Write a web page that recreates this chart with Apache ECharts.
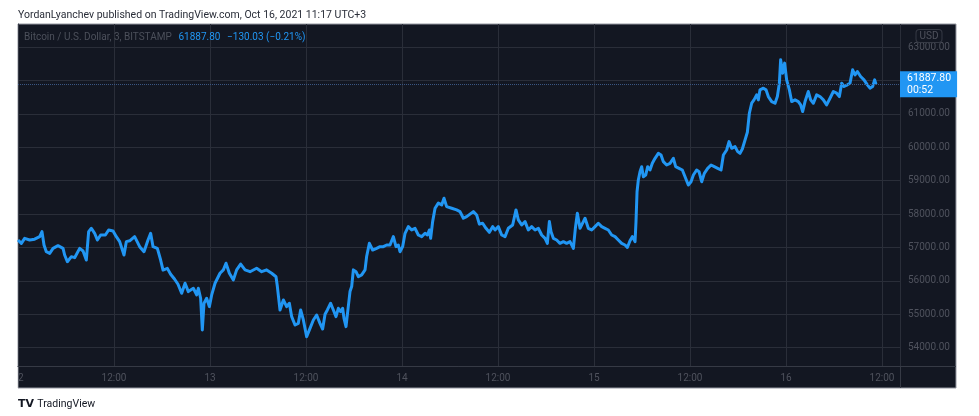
<!DOCTYPE html>
<html>
<head>
<meta charset="utf-8">
<script src="https://cdn.jsdelivr.net/npm/echarts@6/dist/echarts.min.js"></script>
<style>
html,body{margin:0;padding:0;background:#ffffff;}
#chart{width:979px;height:416px;}
</style>
</head>
<body>
<div id="chart"></div>
<script>
// [hours since 12 Oct 00:00 (UTC+3), BTC/USD price]
const oct12Points = [
  [0,57225],[0.42,57125],[0.83,57275],[1.46,57225],[2.08,57250],[2.71,57325],[3.0,57475],[3.25,57075],
  [3.54,56875],[3.96,56825],[4.38,56975],[5.0,57055],[5.63,56975],[5.83,56775],[6.17,56575],[6.67,56725],
  [7.08,56695],[7.71,56975],[8.13,56895],[8.54,56625],[8.83,57475],[9.17,57575],[9.58,57425],[9.92,57225],
  [10.33,57375],[10.92,57375],[11.33,57525],[11.88,57495],[12.29,57325],[12.71,57175],[13.25,56775],[13.54,57175],
  [13.96,57200],[14.58,57325],[15.21,57025],[15.75,56875],[16.25,57225],[16.58,57425],[16.88,57025],[17.42,56975],
  [17.83,56625],[18.13,56325],[18.67,56375],[19.08,56200],[19.58,56050],[20.0,55900],[20.46,55630],[20.88,55930],
  [21.29,55680],[21.92,55780],[22.33,55580],[22.54,55780],[22.83,55480],[23.04,54530],[23.25,55330],[23.58,55480],
  [23.92,55230]
];
const oct13Points = [
  [24.21,55580],[24.63,55930],[25.25,56230],[25.67,56330],[26.0,56530],[26.42,56230],[26.92,56030],[27.33,56330],
  [27.83,56505],[28.38,56330],[29.0,56275],[29.83,56380],[30.46,56275],[31.08,56330],[31.71,56230],[32.25,56125],
  [32.42,55830],[32.75,55130],[33.17,55430],[33.58,55230],[33.92,55330],[34.21,54930],[34.63,54680],[35.04,54730],
  [35.33,55130],[35.67,54830],[36.08,54330],[36.5,54580],[36.92,54830],[37.33,54980],[37.75,54730],[38.08,54560],
  [38.38,55000],[38.67,55130],[39.08,55330],[39.42,55130],[39.75,54930],[40.04,55180],[40.33,55080],[40.58,55180],
  [40.75,54880],[41.0,54630],[41.25,54680],[41.5,55680],[41.71,55830],[41.92,56330],[42.25,56275],[42.54,56125],
  [42.96,56180],[43.38,56330],[43.58,56730],[43.92,57125],[44.33,56925],[44.83,56975],[45.25,57025],[45.67,57025],
  [46.08,57075],[46.5,57075],[46.92,57325],[47.25,57025],[47.54,57075],[47.75,56875]
];
const oct14Points = [
  [48.08,57025],[48.38,57425],[48.79,57625],[49.21,57525],[49.63,57575],[50.04,57375],[50.46,57325],[50.88,57425],
  [51.17,57375],[51.42,57525],[51.58,57275],[51.83,57775],[52.13,58175],[52.54,58330],[52.96,58275],[53.25,58475],
  [53.58,58225],[54.21,58175],[54.83,58125],[55.25,58075],[55.67,57875],[56.08,57925],[56.5,58000],[56.92,58075],
  [57.33,57975],[57.67,57700],[58.08,57725],[58.5,57575],[58.92,57455],[59.33,57625],[59.63,57525],[60.04,57625],
  [60.46,57375],[60.88,57325],[61.29,57575],[61.83,57675],[62.25,58125],[62.54,57825],[62.96,57675],[63.38,57775],
  [63.79,57525],[64.21,57625],[64.63,57525],[65.04,57575],[65.46,57375],[65.88,57275],[66.17,57125],[66.42,57775],
  [66.63,57475],[66.92,57275],[67.33,57225],[67.75,57125],[68.17,57175],[68.58,57125],[69.0,57175],[69.42,56975],
  [69.67,57575],[69.92,58025],[70.25,57575],[70.67,57775],[70.88,57875],[71.29,57575],[71.71,57525]
];
const oct15Points = [
  [72.13,57625],[72.54,57725],[72.96,57625],[73.38,57575],[73.79,57525],[74.21,57375],[74.63,57325],[75.04,57225],
  [75.46,57125],[75.88,57075],[76.17,57000],[76.5,57200],[76.79,57325],[77.13,57175],[77.25,57775],[77.38,58670],
  [77.54,59020],[77.75,59270],[77.96,59420],[78.17,59120],[78.46,59170],[78.71,59420],[79.0,59320],[79.29,59520],
  [79.63,59670],[80.04,59820],[80.38,59770],[80.67,59570],[81.08,59470],[81.5,59520],[81.92,59670],[82.21,59420],
  [82.63,59370],[83.04,59320],[83.38,59120],[83.79,58870],[84.13,58970],[84.42,59170],[84.83,59320],[85.13,59270],
  [85.46,58970],[85.79,59220],[86.21,59370],[86.63,59470],[87.04,59420],[87.46,59370],[87.88,59320],[88.17,59770],
  [88.58,59920],[88.88,60170],[89.21,59970],[89.63,60020],[89.96,59870],[90.25,59820],[90.54,59950],[90.88,60220],
  [91.17,60450],[91.42,61020],[91.71,61320],[92.0,61420],[92.33,61570],[92.54,61420],[92.75,61720],[93.17,61770],
  [93.5,61720],[93.79,61520],[94.21,61370],[94.63,61320],[94.92,61520],[95.17,61920],[95.33,62620],[95.58,62220],
  [95.83,62520]
];
const oct16Points = [
  [96.08,62020],[96.42,61720],[96.71,61370],[97.13,61420],[97.54,61370],[97.83,61270],[98.08,61070],[98.38,61370],
  [98.79,61670],[99.08,61420],[99.42,61320],[99.83,61570],[100.25,61520],[100.67,61420],[101.08,61270],[101.5,61470],
  [101.92,61670],[102.33,61620],[102.67,61520],[102.96,61920],[103.25,61820],[103.67,61870],[104.0,61920],[104.33,62320],
  [104.63,62170],[104.92,62270],[105.33,62120],[105.75,62020],[106.17,61870],[106.5,61770],[106.83,61820],[107.08,62020],
  [107.25,61887.80]
];

const xTickLabels = ['12', '12:00', '13', '12:00', '14', '12:00', '15', '12:00', '16', '12:00'];
const yTickValues = [54000, 55000, 56000, 57000, 58000, 59000, 60000, 61000, 62000, 63000];

const symbolTitle = 'Bitcoin / U.S. Dollar, 3, BITSTAMP';
const priceChange = '\u2212130.03 (\u22120.21%)';
const barCountdown = '00:52';
const publishLine = 'YordanLyanchev published on TradingView.com, Oct 16, 2021 11:17 UTC+3';

const allPoints = [].concat(oct12Points, oct13Points, oct14Points, oct15Points, oct16Points);
const lastPrice = allPoints[allPoints.length - 1][1];

const FONT = 'Roboto, "Noto Sans", sans-serif';
const GRID = '#2a2e39';
const AXIS_TEXT = '#4f525d';
const BLUE = '#2196f3';

const chart = echarts.init(document.getElementById('chart'), null, {renderer: 'canvas'});
chart.setOption({
  animation: false,
  backgroundColor: '#ffffff',
  textStyle: {fontFamily: FONT},
  grid: {left: 18, top: 24, right: 79, bottom: 50, containLabel: false},
  xAxis: {
    type: 'value',
    min: 0,
    max: 110.25,
    interval: 12,
    axisLine: {show: true, lineStyle: {color: '#363a45', width: 1}},
    axisTick: {show: false},
    splitLine: {show: true, lineStyle: {color: GRID, width: 1}},
    axisLabel: {
      color: AXIS_TEXT, fontSize: 10, fontFamily: FONT, margin: 7,
      showMaxLabel: false,
      formatter: function (v) {
        const i = v / 12;
        if (Math.abs(i - Math.round(i)) > 1e-6) return '';
        return xTickLabels[Math.round(i)] || '';
      }
    }
  },
  yAxis: {
    type: 'value',
    position: 'right',
    min: 53452,
    max: 63692,
    axisLine: {show: true, lineStyle: {color: '#363a45', width: 1}},
    axisTick: {show: false, customValues: yTickValues},
    splitLine: {show: true, lineStyle: {color: GRID, width: 1}},
    axisLabel: {
      customValues: yTickValues,
      color: AXIS_TEXT, fontSize: 10, fontFamily: FONT, margin: 8,
      formatter: function (v) { return v.toFixed(2); }
    }
  },
  graphic: [
    {type: 'rect', z: -10, shape: {x: 18, y: 24, width: 938, height: 364},
     style: {fill: '#131722', stroke: '#9598a1', lineWidth: 1}},
    {type: 'line', z: 5, shape: {x1: 900.5, y1: 366, x2: 900.5, y2: 388},
     style: {stroke: '#363a45', lineWidth: 1}},
    {type: 'line', z: 5, shape: {x1: 900, y1: 366.5, x2: 956, y2: 366.5},
     style: {stroke: '#363a45', lineWidth: 1}},
    {type: 'rect', z: 50, shape: {x: 0, y: 367, width: 17.5, height: 22}, style: {fill: '#ffffff'}},
    {type: 'text', z: 50, x: 18, y: 15,
     style: {text: publishLine, fill: '#2a2e39', font: '10.5px ' + FONT, verticalAlign: 'middle'}},
    {type: 'text', z: 50, x: 24, y: 37,
     style: {
       text: '{t|' + symbolTitle + '}  {v|' + lastPrice.toFixed(2) + '}  {v|' + priceChange + '}',
       verticalAlign: 'middle',
       rich: {
         t: {fill: '#4c505b', fontSize: 10, fontFamily: FONT},
         v: {fill: BLUE, fontSize: 10, fontFamily: FONT}
       }
     }},
    {type: 'text', z: 50, x: 929, y: 36,
     style: {text: 'USD', fill: AXIS_TEXT, font: '10px ' + FONT, align: 'center', verticalAlign: 'middle',
             backgroundColor: '#131722', borderColor: '#363a45', borderWidth: 1, borderRadius: 3, padding: [1, 3]}},
    {type: 'text', z: 50, x: 18, y: 404,
     style: {
       text: '{l|TV} {n|TradingView}',
       verticalAlign: 'middle',
       rich: {
         l: {fill: '#131722', fontSize: 11, fontWeight: 'bold', fontFamily: 'DejaVu Sans'},
         n: {fill: '#131722', fontSize: 10.5, fontFamily: FONT}
       }
     }}
  ],
  series: [{
    type: 'line',
    data: allPoints,
    showSymbol: false,
    symbol: 'none',
    clip: true,
    z: 3,
    lineStyle: {color: BLUE, width: 3, join: 'round'},
    markLine: {
      silent: true,
      symbol: ['none', 'none'],
      lineStyle: {color: '#3a5683', type: 'dotted', width: 1},
      label: {
        show: true,
        position: 'end',
        distance: 0,
        formatter: function (p) { return p.value.toFixed(2) + '\n' + barCountdown; },
        color: '#ffffff',
        backgroundColor: BLUE,
        fontSize: 10.5,
        fontFamily: FONT,
        lineHeight: 12,
        padding: [1, 6, 1, 7],
        borderRadius: 0
      },
      data: [{yAxis: lastPrice}]
    }
  }]
});
</script>
</body>
</html>
